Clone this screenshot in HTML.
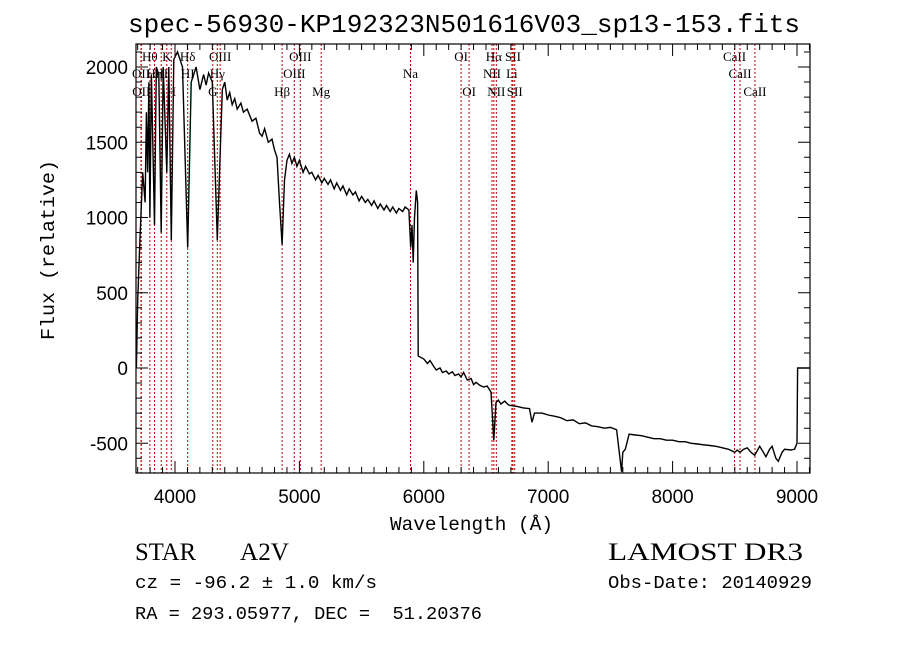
<!DOCTYPE html>
<html><head><meta charset="utf-8"><style>html,body{margin:0;padding:0;background:#fff}svg{display:block}</style></head>
<body>
<svg id="chart" width="900" height="649" viewBox="0 0 900 649" xmlns="http://www.w3.org/2000/svg">
<rect width="900" height="649" fill="#fff"/>
<text x="128" y="32" font-family="Liberation Mono, monospace" font-size="26" textLength="672" lengthAdjust="spacingAndGlyphs">spec-56930-KP192323N501616V03_sp13-153.fits</text>
<g id="lines"></g>
<g id="series"></g>
<g id="axes"></g>
<text x="390" y="530" font-family="Liberation Mono, monospace" font-size="19" textLength="163" lengthAdjust="spacingAndGlyphs">Wavelength (Å)</text>
<text transform="translate(54,340) rotate(-90)" font-family="Liberation Mono, monospace" font-size="19" textLength="180" lengthAdjust="spacingAndGlyphs">Flux (relative)</text>
<text x="135" y="560" font-family="Liberation Serif, serif" font-size="25" textLength="61" lengthAdjust="spacingAndGlyphs">STAR</text>
<text x="240" y="560" font-family="Liberation Serif, serif" font-size="25" textLength="49" lengthAdjust="spacingAndGlyphs">A2V</text>
<text x="608" y="560" font-family="Liberation Serif, serif" font-size="25" textLength="195" lengthAdjust="spacingAndGlyphs">LAMOST DR3</text>
<text x="135" y="588" font-family="Liberation Mono, monospace" font-size="18" textLength="242" lengthAdjust="spacingAndGlyphs">cz = -96.2 ± 1.0 km/s</text>
<text x="608" y="588" font-family="Liberation Mono, monospace" font-size="18" textLength="204" lengthAdjust="spacingAndGlyphs">Obs-Date: 20140929</text>
<text x="135" y="619" font-family="Liberation Mono, monospace" font-size="18" textLength="347" lengthAdjust="spacingAndGlyphs" xml:space="preserve">RA = 293.05977, DEC =  51.20376</text>
</svg>
<script>
const wavelengths=[3690,3700,3720,3740,3760,3770,3780,3790,3798,3810,3835,3850,3870,3889,3905,3934,3950,3970,3990,4020,4060,4102,4130,4170,4200,4230,4250,4270,4300,4340,4380,4400,4420,4440,4460,4480,4500,4530,4550,4580,4600,4620,4650,4680,4700,4720,4750,4780,4800,4820,4840,4861,4880,4900,4920,4940,4960,4980,5000,5030,5050,5080,5100,5130,5150,5180,5200,5230,5250,5280,5300,5330,5350,5380,5400,5430,5450,5480,5500,5530,5550,5580,5600,5630,5650,5680,5700,5730,5750,5780,5800,5830,5850,5880,5895,5905,5915,5925,5940,5950,5955,6000,6030,6050,6080,6100,6130,6150,6180,6200,6230,6250,6280,6300,6320,6350,6380,6400,6420,6450,6480,6510,6540,6563,6580,6600,6620,6650,6680,6700,6750,6800,6850,6870,6890,6950,7000,7050,7100,7150,7200,7250,7300,7350,7400,7450,7500,7550,7590,7600,7620,7650,7700,7750,7800,7850,7900,7950,8000,8050,8100,8150,8200,8250,8300,8350,8400,8450,8500,8520,8542,8570,8600,8630,8660,8700,8730,8750,8780,8800,8830,8850,8880,8900,8950,8980,9000,9005,9100];
const fluxes=[0,450,900,1300,1100,1700,1300,1900,1000,1950,950,2000,1950,900,2000,1300,2000,850,2050,2100,2000,800,1900,2000,1850,1950,1880,1960,1900,850,1850,1900,1780,1830,1750,1790,1720,1760,1700,1720,1680,1640,1660,1560,1540,1590,1500,1520,1450,1400,1100,820,1250,1380,1420,1360,1400,1340,1380,1300,1340,1290,1300,1250,1280,1230,1260,1220,1250,1190,1230,1180,1210,1150,1190,1150,1170,1110,1140,1100,1120,1080,1110,1060,1090,1050,1080,1040,1070,1030,1060,1040,1070,1050,800,950,700,1000,1180,1100,80,60,30,50,10,-13,0,-30,-20,-40,-25,-50,-40,-60,-30,-80,-70,-110,-95,-115,-126,-120,-160,-480,-230,-213,-240,-220,-245,-250,-255,-265,-270,-360,-300,-300,-312,-320,-330,-350,-345,-370,-365,-385,-390,-400,-395,-410,-690,-560,-540,-440,-445,-450,-460,-470,-470,-480,-480,-490,-490,-500,-505,-510,-515,-520,-530,-540,-560,-545,-560,-540,-530,-560,-580,-520,-560,-590,-540,-520,-600,-620,-560,-540,-545,-540,-500,0,0];
const xTicks=[4000,5000,6000,7000,8000,9000];
const yTicks=[-500,0,500,1000,1500,2000];
const lineLabels=[["Hθ",3798,1],["K",3934,1],["Hδ",4102,1],["OIII",4363,1],["OIII",5007,1],["OI",6300,1],["Hα",6563,1],["SII",6717,1],["CaII",8498,1],
["OII",3727,2],["Hη",3835,2],["HI",3889,2],["HI",4102,2],["Hγ",4340,2],["OIII",4959,2],["Na",5893,2],["NII",6548,2],["Li",6708,2],["CaII",8542,2],
["OII",3729,3],["H",3970,3],["G",4304,3],["Hβ",4861,3],["Mg",5175,3],["OI",6364,3],["NII",6583,3],["SII",6731,3],["CaII",8662,3]];
const L=136,R=810,T=44,B=473;
function X(w){return 175+(w-4000)*0.1244;}
function Y(f){return 368-f*75.25/500;}
const NS="http://www.w3.org/2000/svg";
function mk(t,a,p){const e=document.createElementNS(NS,t);for(const k in a)e.setAttribute(k,a[k]);p.appendChild(e);return e;}
const gl=document.getElementById('lines');
const rowY={1:61,2:78,3:96};
const seen={};
lineLabels.forEach(l=>{
  const x=X(l[1]);
  if(!seen[l[1]]){seen[l[1]]=1;
  const ln=mk('line',{x1:x,x2:x,y1:T,y2:B,stroke:'#c00000','stroke-width':1,'stroke-dasharray':'2,2'},gl);
  
  }
  const t=mk('text',{x:x,y:rowY[l[2]],'text-anchor':'middle','font-family':'Liberation Serif, serif','font-size':13},gl);
  t.textContent=l[0];
  
  
});
const gs=document.getElementById('series');
let d='';
wavelengths.forEach((w,i)=>{d+=(i?'L':'M')+Math.min(R,X(w)).toFixed(1)+','+Math.max(T,Math.min(B,Y(fluxes[i]))).toFixed(1);});
const p=mk('path',{d:d,fill:'none',stroke:'#000','stroke-width':1.4},gs);


const ga=document.getElementById('axes');
const fr=mk('rect',{x:L,y:T,width:R-L,height:B-T,fill:'none',stroke:'#000','stroke-width':1.2},ga);


let td='';
for(let w=3700;w<=9100;w+=100){const x=X(w);if(x<L||x>R)continue;const len=(w%1000===0)?12:6;td+=`M${x},${B}v${-len}M${x},${T}v${len}`;}
for(let f=-600;f<=2100;f+=100){const y=Y(f);if(y<T||y>B)continue;const len=(f%500===0)?12:6;td+=`M${L},${y}h${len}M${R},${y}h${-len}`;}
const tk=mk('path',{d:td,stroke:'#000','stroke-width':1},ga);


xTicks.forEach(w=>{const t=mk('text',{x:X(w),y:503,'text-anchor':'middle','font-family':'Liberation Sans, sans-serif','font-size':19},ga);t.textContent=w;

});
yTicks.forEach(f=>{const t=mk('text',{x:128,y:Y(f)+7,'text-anchor':'end','font-family':'Liberation Sans, sans-serif','font-size':19},ga);t.textContent=f;

});
</script>
</body></html>
